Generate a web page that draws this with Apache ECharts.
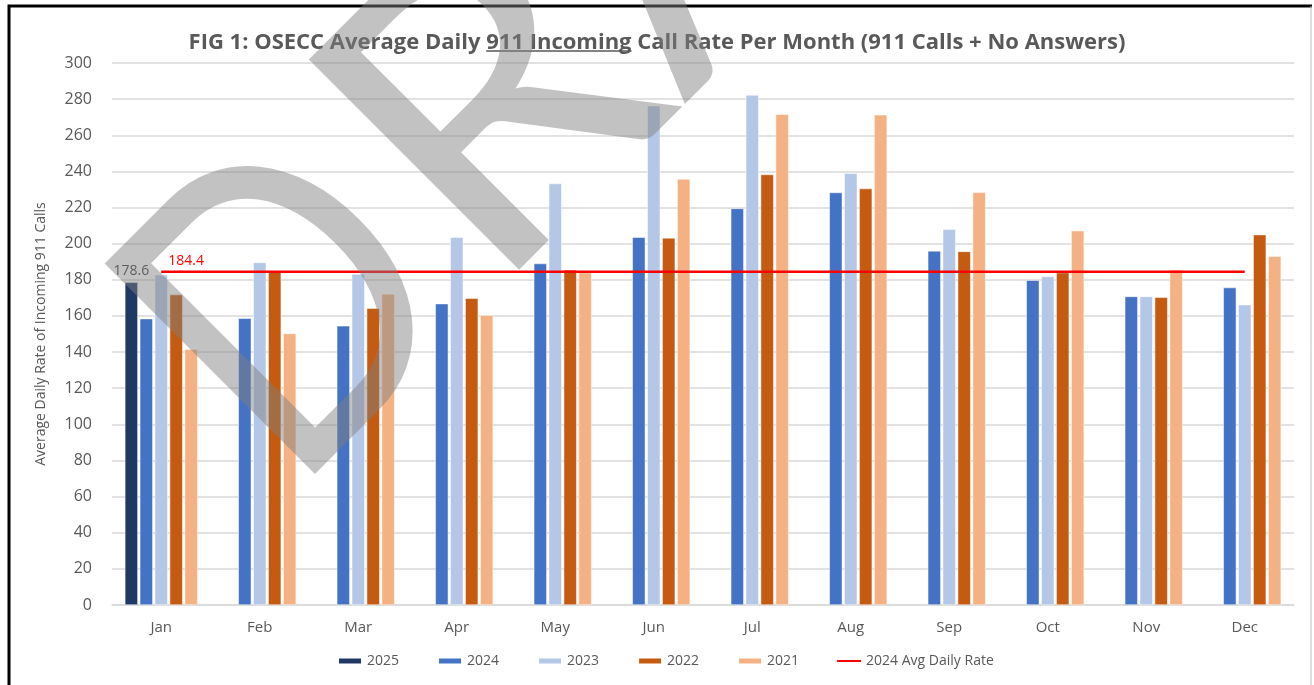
<!DOCTYPE html>
<html>
<head>
<meta charset="utf-8">
<title>OSECC 911 Incoming Call Rate</title>
<script src="https://cdn.jsdelivr.net/npm/echarts@6/dist/echarts.min.js"></script>
<style>
  html, body { margin: 0; padding: 0; background: #fff; }
  #main { width: 1314px; height: 685px; }
</style>
</head>
<body>
<div id="main"></div>
<script>
// 数据
var months = ['Jan', 'Feb', 'Mar', 'Apr', 'May', 'Jun', 'Jul', 'Aug', 'Sep', 'Oct', 'Nov', 'Dec']
var y2025 = [178.6, null, null, null, null, null, null, null, null, null, null, null]
var y2024 = [158.5, 158.7, 154.5, 166.8, 189.0, 203.6, 219.5, 228.3, 196.0, 179.8, 170.8, 175.7]
var y2023 = [182.8, 189.6, 183.2, 203.6, 233.3, 276.3, 282.3, 239.0, 208.0, 181.8, 170.8, 166.2]
var y2022 = [171.8, 184.2, 164.3, 169.8, 185.5, 203.2, 238.3, 230.5, 195.7, 184.0, 170.4, 205.0]
var y2021 = [141.6, 150.3, 172.2, 160.4, 184.0, 235.8, 271.6, 271.3, 228.4, 207.2, 185.6, 193.1]
var avg2024 = 184.4
var avgLine = months.map(function () { return avg2024 })
var yTicks = { min: 0, max: 300, interval: 20 }

var FONT = '"Open Sans", Lato, sans-serif'
var titlePre = 'FIG 1: OSECC Average Daily '
var titleUnder = '911 Incoming'
var titlePost = ' Call Rate Per Month (911 Calls + No Answers)'
var titleSize = 22

// 量一下标题宽度，用来放下划线
var ctx = document.createElement('canvas').getContext('2d')
ctx.font = 'bold ' + titleSize + 'px ' + FONT
var wAll = ctx.measureText(titlePre + titleUnder + titlePost).width
var wPre = ctx.measureText(titlePre).width
var wUnder = ctx.measureText(titleUnder).width
var titleLeft = 1314 / 2 - wAll / 2

// 水印：沿 45° 方向排字
var wmX = 345
var wmY = 548
var wmStep = 280
var wmStyle = {
  fontSize: 415,
  fontFamily: 'Lato, "Open Sans", sans-serif',
  fill: 'rgba(128,128,128,0.48)',
  textAlign: 'left',
  textVerticalAlign: 'bottom'
}

var chart = echarts.init(document.getElementById('main'))

function barSeries (name, data, color) {
  return {
    name: name,
    type: 'bar',
    data: data,
    barWidth: 13,
    barGap: '15%',
    itemStyle: { color: color, borderColor: '#fff', borderWidth: 0.5 }
  }
}

var s2025 = barSeries('2025', y2025, '#203864')
s2025.label = {
  show: true,
  position: 'top',
  distance: 4,
  color: '#404040',
  fontSize: 14,
  fontFamily: FONT,
  formatter: function (p) { return p.value == null ? '' : p.value.toFixed(1) }
}

chart.setOption({
  backgroundColor: '#fff',
  animation: false,
  title: {
    text: titlePre + titleUnder + titlePost,
    left: 'center',
    top: 27,
    textStyle: { color: '#595959', fontSize: titleSize, fontWeight: 'bold', fontFamily: FONT }
  },
  legend: {
    bottom: 12,
    left: 332,
    itemWidth: 24,
    itemHeight: 7,
    itemGap: 38,
    textStyle: { color: '#595959', fontSize: 14, fontFamily: FONT },
    data: [
      { name: '2025', icon: 'rect' },
      { name: '2024', icon: 'rect' },
      { name: '2023', icon: 'rect' },
      { name: '2022', icon: 'rect' },
      { name: '2021', icon: 'rect' },
      { name: '2024 Avg Daily Rate', icon: 'path://M0,4 L24,4 L24,6 L0,6 Z', itemStyle: { color: '#ff0000' } }
    ]
  },
  grid: { left: 112, right: 20, top: 63, bottom: 80 },
  xAxis: {
    type: 'category',
    data: months,
    axisLine: { lineStyle: { color: '#d9d9d9', width: 1.5 } },
    axisTick: { show: false },
    axisLabel: { color: '#595959', fontSize: 15, margin: 15, fontFamily: FONT }
  },
  yAxis: {
    type: 'value',
    min: yTicks.min,
    max: yTicks.max,
    interval: yTicks.interval,
    name: 'Average Daily Rate of Incoming 911 Calls',
    nameLocation: 'middle',
    nameGap: 64,
    nameTextStyle: { color: '#595959', fontSize: 14, fontFamily: FONT },
    axisLine: { show: false },
    axisTick: { show: false },
    axisLabel: { color: '#595959', fontSize: 16, margin: 20, fontFamily: FONT },
    splitLine: { lineStyle: { color: '#d9d9d9', width: 1.5 } }
  },
  series: [
    s2025,
    barSeries('2024', y2024, '#4472C4'),
    barSeries('2023', y2023, '#B4C7E7'),
    barSeries('2022', y2022, '#C55A11'),
    barSeries('2021', y2021, '#F4B183'),
    {
      name: '2024 Avg Daily Rate',
      type: 'line',
      data: avgLine,
      symbol: 'circle',
      symbolSize: 0,
      showSymbol: true,
      lineStyle: { color: '#ff0000', width: 2.5 },
      itemStyle: { color: '#ff0000' },
      z: 5,
      label: {
        show: true,
        position: 'right',
        offset: [2, -11],
        color: '#ff0000',
        fontSize: 14,
        fontFamily: FONT,
        formatter: function (p) { return p.dataIndex === 0 ? p.value.toFixed(1) : '' }
      }
    }
  ],
  graphic: [
    // 外框
    {
      type: 'polyline',
      shape: { points: [[9, 685], [9, 6], [1312, 6]] },
      style: { stroke: '#000', lineWidth: 3, fill: null },
      silent: true
    },
    {
      type: 'line',
      shape: { x1: 1311, y1: 6, x2: 1311, y2: 685 },
      style: { stroke: '#bfbfbf', lineWidth: 1 },
      silent: true
    },
    // 标题下划线
    {
      type: 'line',
      shape: { x1: titleLeft + wPre, y1: 51, x2: titleLeft + wPre + wUnder, y2: 51 },
      style: { stroke: '#595959', lineWidth: 1.5 },
      silent: true
    },
    // 水印
    {
      type: 'text',
      x: wmX,
      y: wmY,
      rotation: Math.PI / 4,
      scaleX: 0.82,
      z: 100,
      silent: true,
      style: Object.assign({ text: 'D' }, wmStyle)
    },
    {
      type: 'text',
      x: wmX + wmStep * Math.SQRT1_2,
      y: wmY - wmStep * Math.SQRT1_2,
      rotation: Math.PI / 4,
      scaleX: 1.05,
      z: 100,
      silent: true,
      style: Object.assign({ text: 'RAFT' }, wmStyle)
    }
  ]
})
</script>
</body>
</html>
